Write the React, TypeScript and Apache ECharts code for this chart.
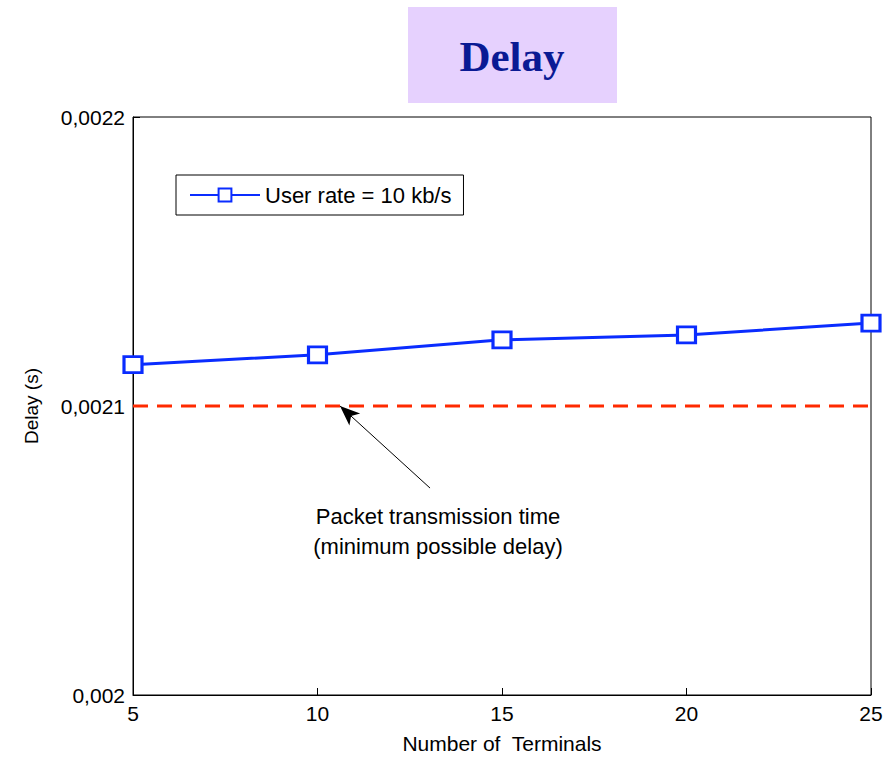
import React, { useEffect, useRef } from "react";
import * as echarts from "echarts";

const terminals = [5, 10, 15, 20, 25];
const delayValues = [0.0021143, 0.0021177, 0.0021229, 0.0021246, 0.0021287];
const minDelay = 0.0021;
const yTicks = [0.002, 0.0021, 0.0022];
const seriesName = "User rate = 10 kb/s";
const annotationLines = ["Packet transmission time", "(minimum possible delay)"];
const arrowFrom = [13.05, 0.0020716];
const arrowTo = [10.61, 0.0021];

const fmt = (v: number) => {
  let s = v.toFixed(4);
  s = s.replace(/0+$/, "");
  return s.replace(".", ",");
};

export default function App() {
  const ref = useRef<HTMLDivElement>(null);
  useEffect(() => {
    document.body.style.margin = "0";
    const chart = echarts.init(ref.current!, null, { renderer: "svg" });
    const font = "'Liberation Sans', Arial, sans-serif";
    chart.setOption({
      animation: false,
      backgroundColor: "#ffffff",
      grid: {
        left: 133,
        top: 117,
        width: 738,
        height: 581,
        show: true,
        borderColor: "#000",
        borderWidth: 1,
        backgroundColor: "transparent",
      },
      legend: {
        data: [seriesName],
        left: 176,
        top: 175,
        orient: "vertical",
        borderColor: "#000",
        borderWidth: 1,
        padding: [9, 12, 9, 13],
        itemWidth: 70,
        itemHeight: 16,
        itemGap: 0,
        textStyle: { fontFamily: font, fontSize: 22, color: "#000" },
      },
      xAxis: {
        type: "value",
        min: 5,
        max: 25,
        interval: 5,
        name: "Number of  Terminals",
        nameLocation: "middle",
        nameGap: 38,
        nameTextStyle: { fontFamily: font, fontSize: 21, color: "#000" },
        axisLine: { show: true, lineStyle: { color: "#000", width: 1 } },
        axisTick: { show: true, inside: true, length: 7, lineStyle: { color: "#000" } },
        axisLabel: { fontFamily: font, fontSize: 21, color: "#000", margin: 8 },
        splitLine: { show: false },
      },
      yAxis: {
        type: "value",
        min: yTicks[0],
        max: yTicks[yTicks.length - 1],
        interval: 0.0001,
        name: "Delay (s)",
        nameLocation: "middle",
        nameGap: 92,
        nameRotate: 90,
        nameTextStyle: { fontFamily: font, fontSize: 19, color: "#000" },
        axisLine: { show: true, lineStyle: { color: "#000", width: 1 } },
        axisTick: { show: true, inside: true, length: 7, lineStyle: { color: "#000" } },
        axisLabel: {
          fontFamily: font,
          fontSize: 21,
          color: "#000",
          margin: 8,
          formatter: (v: number) => fmt(v),
        },
        splitLine: { show: false },
      },
      series: [
        {
          name: seriesName,
          type: "line",
          data: terminals.map((t, i) => [t, delayValues[i]]),
          symbol: "rect",
          symbolSize: [18, 16],
          showAllSymbol: true,
          lineStyle: { color: "#0a2cff", width: 3 },
          itemStyle: { color: "#ffffff", borderColor: "#0a2cff", borderWidth: 3 },
          z: 3,
        },
        {
          name: "min",
          type: "line",
          data: [
            [terminals[0], minDelay],
            [terminals[terminals.length - 1], minDelay],
          ],
          symbol: "none",
          lineStyle: { color: "#ff2a00", width: 3, type: [15, 9] },
          z: 2,
          markLine: {
            silent: true,
            symbol: ["none", "arrow"],
            symbolSize: [12, 20],
            label: { show: false },
            lineStyle: { color: "#000", width: 1, type: "solid" },
            data: [
              [
                { coord: arrowFrom },
                { coord: arrowTo },
              ],
            ],
          },
        },
      ],
      graphic: [
        {
          type: "rect",
          left: 408,
          top: 7,
          shape: { width: 209, height: 96 },
          style: { fill: "#e6d1fe" },
        },
        {
          type: "text",
          x: 512,
          y: 56,
          style: {
            text: "Delay",
            fill: "#0a1a94",
            font: "bold 43px 'Liberation Serif', 'Times New Roman', serif",
            align: "center",
            verticalAlign: "middle",
          },
        },
        {
          type: "text",
          x: 438,
          y: 516,
          style: {
            text: annotationLines[0],
            fill: "#000",
            font: "22px 'Liberation Sans', Arial, sans-serif",
            align: "center",
            verticalAlign: "middle",
          },
        },
        {
          type: "text",
          x: 438,
          y: 546,
          style: {
            text: annotationLines[1],
            fill: "#000",
            font: "22px 'Liberation Sans', Arial, sans-serif",
            align: "center",
            verticalAlign: "middle",
          },
        },
      ],
    });
    return () => chart.dispose();
  }, []);
  return <div ref={ref} style={{ width: 891, height: 759 }} />;
}
